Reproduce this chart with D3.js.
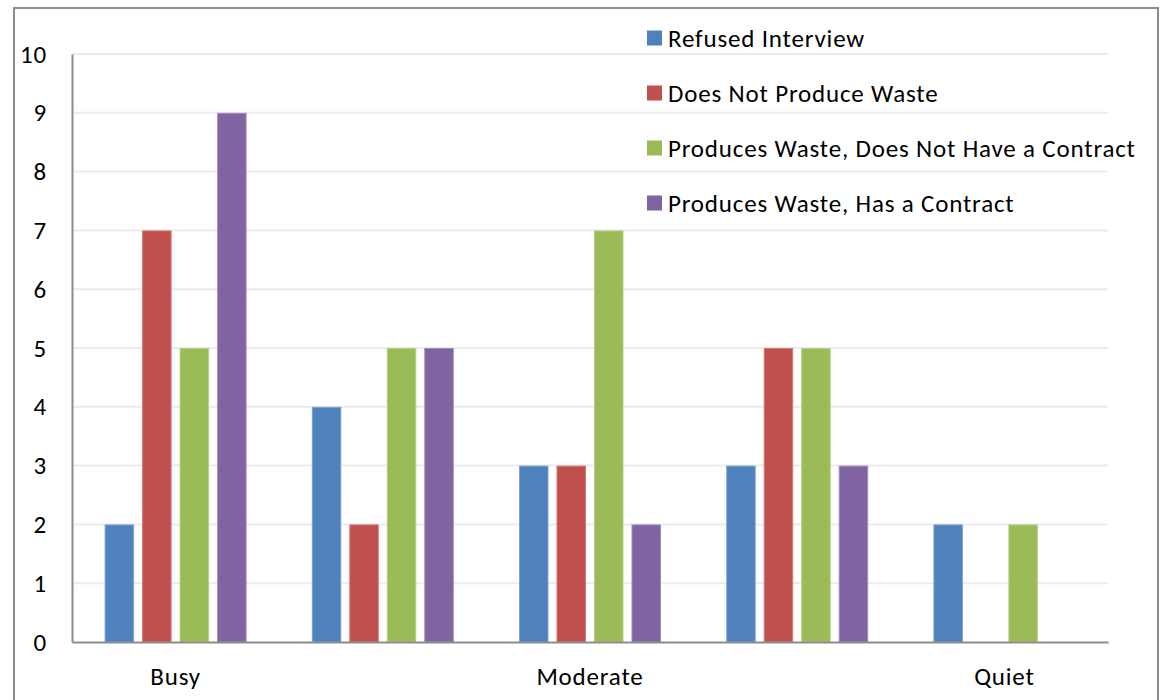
<!DOCTYPE html>
<html><head><meta charset="utf-8">
<script src="https://cdn.jsdelivr.net/npm/d3@7"></script>
<style>
html,body{margin:0;padding:0;background:#fff;}
svg{display:block;font-family:Carlito, Calibri, Lato, sans-serif;}
</style></head>
<body>
<svg id="chart" width="1163" height="700"></svg>
<script>
const categories = ["Busy", "", "Moderate", "", "Quiet"];
const seriesNames = ["Refused Interview", "Does Not Produce Waste", "Produces Waste, Does Not Have a Contract", "Produces Waste, Has a Contract"];
const refusedInterview = [2, 4, 3, 3, 2];
const doesNotProduceWaste = [7, 2, 3, 5, 0];
const producesNoContract = [5, 5, 7, 5, 2];
const producesHasContract = [9, 5, 2, 3, 0];
const yTicks = [0, 1, 2, 3, 4, 5, 6, 7, 8, 9, 10];
const colors = ["#4F81BD", "#C0504D", "#9BBB59", "#8064A2"];
const strokes = ["#7FA3D1", "#D47A78", "#B6D085", "#A08BC0"];

const series = [refusedInterview, doesNotProduceWaste, producesNoContract, producesHasContract];

const FONT = "Carlito, Calibri, Lato, sans-serif";
const FS = 25;
const LS = 0.82;

const svg = d3.select("#chart");
const plot = {left: 72, right: 1108, top: 54, bottom: 642};

// outer border
svg.append("rect").attr("x", 14).attr("y", 8).attr("width", 1144).attr("height", 720)
  .attr("fill", "none").attr("stroke", "#8c8c8c").attr("stroke-width", 2);

const y = d3.scaleLinear().domain([0, 10]).range([plot.bottom, plot.top]);
const idx = categories.map((d, i) => i);
const x0 = d3.scaleBand().domain(idx).range([plot.left, plot.right]).paddingInner(0).paddingOuter(0);
const x1 = d3.scaleBand().domain(d3.range(series.length)).range([0, x0.bandwidth()])
  .paddingInner(0.213).paddingOuter(0.869);

// gridlines
svg.append("g").selectAll("line").data(yTicks.filter(t => t > 0)).join("line")
  .attr("x1", plot.left).attr("x2", plot.right)
  .attr("y1", d => y(d)).attr("y2", d => y(d))
  .attr("stroke", "#ebebeb").attr("stroke-width", 2);

// bars
const gBars = svg.append("g");
series.forEach((vals, s) => {
  gBars.append("g").selectAll("rect").data(vals.map((v, i) => ({v, i}))).join("rect")
    .filter(d => d.v > 0)
    .attr("x", d => x0(d.i) + x1(s) + 0.5)
    .attr("y", d => y(d.v) + 0.5)
    .attr("width", x1.bandwidth() - 1)
    .attr("height", d => y(0) - y(d.v) - 0.5)
    .attr("fill", colors[s]).attr("stroke", strokes[s]).attr("stroke-width", 1);
});

// y axis
const yAxis = d3.axisLeft(y).tickValues(yTicks).tickSize(0).tickPadding(25).tickFormat(d3.format("d"));
const gy = svg.append("g").attr("transform", `translate(${plot.left},0)`).call(yAxis);
gy.select(".domain").attr("stroke", "#8c8c8c").attr("stroke-width", 2);
gy.selectAll("text").attr("font-size", FS).attr("letter-spacing", LS).attr("fill", "#000").attr("font-family", FONT);

// x axis
const xAxis = d3.axisBottom(x0).tickSize(0).tickPadding(25).tickFormat(i => categories[i]);
const gx = svg.append("g").attr("transform", `translate(0,${plot.bottom})`).call(xAxis);
gx.select(".domain").attr("stroke", "#8c8c8c").attr("stroke-width", 2);
gx.selectAll("text").attr("font-size", FS).attr("letter-spacing", LS).attr("fill", "#000").attr("font-family", FONT);

// legend
const legend = svg.append("g").attr("transform", "translate(647,38)");
const items = legend.selectAll("g").data(seriesNames).join("g")
  .attr("transform", (d, i) => `translate(0,${i * 55})`);
items.append("rect").attr("x", 0).attr("y", -7.5).attr("width", 15).attr("height", 15)
  .attr("fill", (d, i) => colors[i]);
items.append("text").attr("x", 21).attr("y", 0).attr("dy", "0.35em")
  .attr("font-size", FS).attr("letter-spacing", LS).attr("fill", "#000").text(d => d);
</script>
</body></html>
